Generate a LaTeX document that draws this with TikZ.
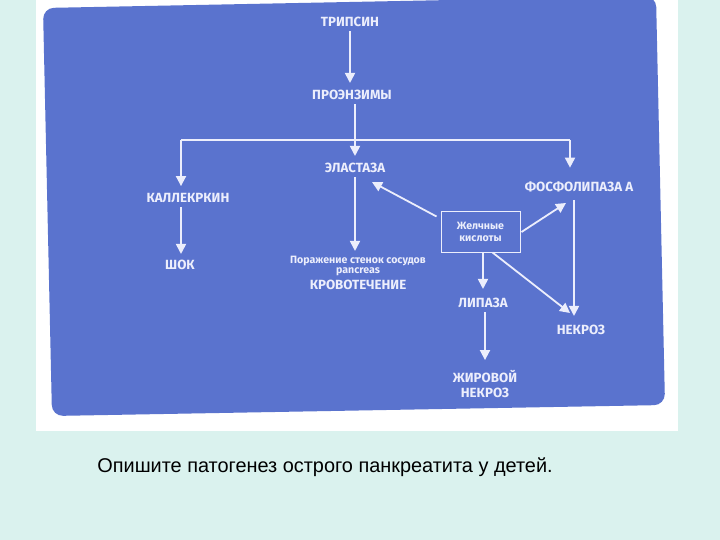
\documentclass[tikz,border=0pt]{standalone}
\usepackage{fontspec}
\setmainfont{Liberation Sans}
\newfontfamily\labfont{Fira Sans}
\usetikzlibrary{arrows.meta}
\definecolor{bgc}{RGB}{218,242,238}
\definecolor{panel}{RGB}{90,115,206}
\definecolor{ink}{RGB}{236,238,252}
\tikzset{
  lab/.style={text=ink, font=\labfont\bfseries\fontsize{13.3}{14}\selectfont, inner sep=1pt, align=center},
  smalllab/.style={text=ink, font=\labfont\bfseries\fontsize{10.6}{12}\selectfont, inner sep=1pt, align=center},
  conn/.style={draw=ink, line width=1.8pt},
  arr/.style={conn, -{Triangle[width=10pt,length=10pt]}},
}
\begin{document}
\begin{tikzpicture}[x=1pt,y=-1pt]
\useasboundingbox (0,0) rectangle (720,540);
\fill[bgc] (0,0) rectangle (720,540);
\fill[white] (36,-1) rectangle (678,431);
\fill[panel, rounded corners=11pt] (43,8) -- (656,-4) -- (665,405) -- (52,416) -- cycle;

% nodes
\node[lab] (trip) at (350,22) {ТРИПСИН};
\node[lab] (proe) at (352,95) {ПРОЭНЗИМЫ};
\node[lab] (elast) at (355,168) {ЭЛАСТАЗА};
\node[lab] (kall) at (188,198) {КАЛЛЕКРКИН};
\node[lab] (fosf) at (579,187) {ФОСФОЛИПАЗА А};
\node[smalllab, draw=ink, line width=1pt, minimum width=79pt, minimum height=40pt] (bile) at (480.5,232) {Желчные\\кислоты};
\node[lab] (shok) at (180,265) {ШОК};
\node[smalllab] (por1) at (358,261) {Поражение стенок сосудов};
\node[smalllab] (por2) at (358,272) {pancreas};
\node[lab] (krov) at (358,285) {КРОВОТЕЧЕНИЕ};
\node[lab] (lip) at (483,303) {ЛИПАЗА};
\node[lab] (nekr) at (581,330) {НЕКРОЗ};
\node[lab] (zhir) at (485,384) {ЖИРОВОЙ\\[1pt]НЕКРОЗ};
\node[font=\fontsize{19.9}{22}\selectfont, text=black] (cap) at (325,467) {Опишите патогенез острого панкреатита у детей.};

% coordinates
\coordinate (jm) at (355,140);
\coordinate (jl) at (181,140);
\coordinate (jr) at (570,140);
\coordinate (eIn) at (372,182);
\coordinate (fIn) at (566,203);
\coordinate (nIn) at (570,313);
\coordinate (fx) at (574,200);
\coordinate (xt) at (350,0);
\coordinate (xl) at (483,0);
\coordinate (xz) at (485,0);

% connectors
\draw[arr] ([yshift=-3pt]trip.south -| xt) -- ([yshift=6pt]proe.north -| xt);
\draw[conn] ([yshift=-3pt]proe.south -| jm) -- (jm);
\draw[conn] (jl) -- (jr);
\draw[arr] (jm) -- ([yshift=6pt]elast.north -| jm);
\draw[arr] (jl) -- ([yshift=6pt]kall.north -| jl);
\draw[arr] (jr) -- ([yshift=13pt]fosf.north -| jr);
\draw[arr] ([xshift=-4pt,yshift=-5pt]bile.north west) -- (eIn);
\draw[arr] ([xshift=1pt]bile.east) -- (fIn);
\draw[arr] (fx) -- ([yshift=8pt]nekr.north -| fx);
\draw[arr] (bile.south -| xl) -- ([yshift=8pt]lip.north -| xl);
\draw[arr] ([xshift=12pt]bile.south) -- (nIn);
\draw[arr] ([yshift=-3pt]kall.south -| jl) -- ([yshift=5pt]shok.north -| jl);
\draw[arr] ([yshift=-3pt]elast.south -| jm) -- ([yshift=4pt]por1.north -| jm);
\draw[arr] ([yshift=-3pt]lip.south -| xz) -- ([yshift=9pt]zhir.north -| xz);
\end{tikzpicture}
\end{document}
